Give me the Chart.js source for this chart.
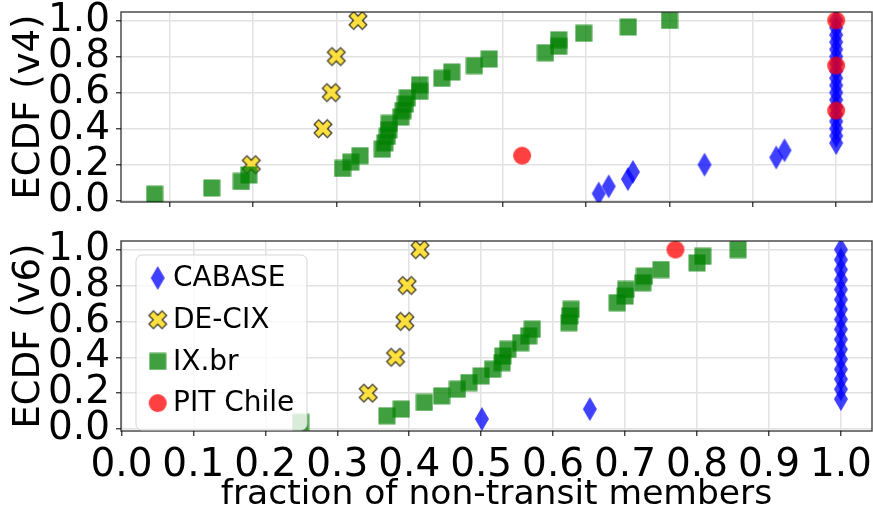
<!DOCTYPE html>
<html>
<head>
<meta charset="utf-8">
<script src="https://cdn.jsdelivr.net/npm/chart.js@4.4.1/dist/chart.umd.min.js"></script>
<style>
  html, body { margin: 0; padding: 0; background: #fff; overflow: hidden; }
  #wrap { position: relative; width: 873px; height: 514px; overflow: hidden; }
  canvas { position: absolute; left: 0; }
  #chartV4 { top: 0; }
  #chartV6 { top: 230px; }
</style>
</head>
<body>
<div id="wrap">
  <canvas id="chartV4" width="882" height="222"></canvas>
  <canvas id="chartV6" width="882" height="284"></canvas>
</div>
<script>
const seriesNames = ['CABASE', 'DE-CIX', 'IX.br', 'PIT Chile'];

// ECDF (v4) - top panel
const cabaseV4X = [0.715, 0.727, 0.750, 0.756, 0.842, 0.928, 0.938,
  1, 1, 1, 1, 1, 1, 1, 1, 1, 1, 1, 1, 1, 1, 1, 1, 1, 1];
const cabaseV4Y = [0.04, 0.08, 0.12, 0.16, 0.20, 0.24, 0.28,
  0.32, 0.36, 0.40, 0.44, 0.48, 0.52, 0.56, 0.60, 0.64, 0.68, 0.72, 0.76, 0.80, 0.84, 0.88, 0.92, 0.96, 1.00];
const decixV4X = [0.298, 0.384, 0.394, 0.400, 0.426];
const decixV4Y = [0.2, 0.4, 0.6, 0.8, 1.0];
const ixbrV4X = [0.182, 0.2505, 0.286, 0.295, 0.4075, 0.4174, 0.4286, 0.4552, 0.4583, 0.4611,
  0.4631, 0.4635, 0.4774, 0.4802, 0.4829, 0.4853, 0.5001, 0.5001, 0.5267, 0.5386,
  0.5657, 0.5835, 0.651, 0.667, 0.667, 0.697, 0.7505, 0.800];
const ixbrV4Y = [0.036, 0.071, 0.107, 0.143, 0.179, 0.214, 0.25, 0.286, 0.321, 0.357,
  0.393, 0.429, 0.464, 0.5, 0.536, 0.571, 0.607, 0.643, 0.679, 0.714,
  0.75, 0.786, 0.821, 0.857, 0.893, 0.929, 0.964, 1.0];
const pitV4X = [0.623, 1, 1, 1];
const pitV4Y = [0.25, 0.5, 0.75, 1.0];

// ECDF (v6) - bottom panel
const cabaseV6X = [0.501, 0.651, 1, 1, 1, 1, 1, 1, 1, 1, 1, 1, 1, 1, 1, 1, 1, 1];
const cabaseV6Y = [0.056, 0.111, 0.167, 0.222, 0.278, 0.333, 0.389, 0.444, 0.5,
  0.556, 0.611, 0.667, 0.722, 0.778, 0.833, 0.889, 0.944, 1.0];
const decixV6X = [0.343, 0.381, 0.394, 0.397, 0.415];
const decixV6Y = [0.2, 0.4, 0.6, 0.8, 1.0];
const ixbrV6X = [0.249, 0.369, 0.389, 0.421, 0.445, 0.467, 0.483, 0.500, 0.516, 0.529,
  0.530, 0.537, 0.555, 0.566, 0.571, 0.622, 0.623, 0.625, 0.689, 0.700,
  0.701, 0.7245, 0.727, 0.750, 0.800, 0.808, 0.857];
const ixbrV6Y = [0.037, 0.074, 0.111, 0.148, 0.185, 0.222, 0.259, 0.296, 0.333, 0.370,
  0.407, 0.444, 0.481, 0.519, 0.556, 0.593, 0.630, 0.667, 0.704, 0.741,
  0.778, 0.815, 0.852, 0.889, 0.926, 0.963, 1.0];
const pitV6X = [0.770];
const pitV6Y = [1.0];

const yTicks = [0.0, 0.2, 0.4, 0.6, 0.8, 1.0];
const xTicksV4 = [0.2, 0.3, 0.4, 0.5, 0.6, 0.7, 0.8, 0.9, 1.0];
const xTicksV6 = [0.0, 0.1, 0.2, 0.3, 0.4, 0.5, 0.6, 0.7, 0.8, 0.9, 1.0];

const FONT = 'DejaVu Sans';

// markers drawn once into small canvases (matplotlib-like shapes)
function makeMarker(w, h, draw) {
  const c = document.createElement('canvas');
  c.width = w; c.height = h;
  draw(c.getContext('2d'), w, h);
  return c;
}
const diamondImg = makeMarker(16, 26, (ctx, w, h) => {
  ctx.fillStyle = 'rgba(0,0,255,0.75)';
  ctx.beginPath();
  ctx.moveTo(w / 2, 1); ctx.lineTo(w - 1, h / 2); ctx.lineTo(w / 2, h - 1); ctx.lineTo(1, h / 2);
  ctx.closePath(); ctx.fill();
});
const crossImg = makeMarker(24, 24, (ctx, w, h) => {
  const s = 9.3, a = 3.2;
  ctx.translate(w / 2, h / 2);
  ctx.rotate(Math.PI / 4);
  ctx.beginPath();
  const pts = [[-a, -s], [a, -s], [a, -a], [s, -a], [s, a], [a, a], [a, s], [-a, s], [-a, a], [-s, a], [-s, -a], [-a, -a]];
  pts.forEach((p, i) => i ? ctx.lineTo(p[0], p[1]) : ctx.moveTo(p[0], p[1]));
  ctx.closePath();
  ctx.fillStyle = 'rgba(255,215,0,0.75)';
  ctx.fill();
  ctx.lineWidth = 1.3;
  ctx.strokeStyle = 'rgba(0,0,0,0.75)';
  ctx.stroke();
});
const squareImg = makeMarker(18, 18, (ctx, w, h) => {
  ctx.fillStyle = 'rgba(0,128,0,0.75)';
  ctx.fillRect(0.5, 0.5, 17, 17);
});
const circleImg = makeMarker(20, 20, (ctx, w, h) => {
  ctx.fillStyle = 'rgba(255,0,0,0.75)';
  ctx.beginPath(); ctx.arc(w / 2, h / 2, 9, 0, Math.PI * 2); ctx.fill();
});
const markerImgs = [diamondImg, crossImg, squareImg, circleImg];

function pts(xs, ys) { return xs.map((x, i) => ({ x: x, y: ys[i] })); }

function makeDatasets(groups) {
  return groups.map((g, i) => ({
    label: seriesNames[i],
    data: pts(g[0], g[1]),
    pointStyle: markerImgs[i],
    pointRadius: 9,
    pointHoverRadius: 9,
    order: groups.length - i
  }));
}

const framePlugin = {
  id: 'frame',
  afterDatasetsDraw(chart) {
    const a = chart.chartArea, ctx = chart.ctx;
    ctx.save();
    ctx.strokeStyle = 'rgba(0,0,0,0.7)';
    ctx.lineWidth = 1.5;
    ctx.strokeRect(a.left, a.top, a.right - a.left, a.bottom - a.top);
    ctx.restore();
  }
};

const legendPlugin = {
  id: 'boxLegend',
  afterDraw(chart) {
    const ctx = chart.ctx;
    ctx.save();
    ctx.beginPath();
    ctx.roundRect(136, 25, 171, 175, 6);
    ctx.fillStyle = 'rgba(255,255,255,0.8)';
    ctx.fill();
    ctx.strokeStyle = 'rgba(204,204,204,0.8)';
    ctx.lineWidth = 1;
    ctx.stroke();
    ctx.font = '28px "' + FONT + '"';
    ctx.fillStyle = '#000';
    ctx.textBaseline = 'middle';
    seriesNames.forEach((name, i) => {
      const cy = 48 + i * 41.7;
      const img = markerImgs[i];
      ctx.drawImage(img, 157.7 - img.width / 2, cy - img.height / 2);
      ctx.fillText(name, 173, cy + 1);
    });
    ctx.restore();
  }
};

function axisOpts(ticks, min, max, showLabels, title, titleSize, fitSize, horizontal) {
  return {
    type: 'linear',
    min: min,
    max: max,
    afterBuildTicks: s => { s.ticks = ticks.map(v => ({ value: v })); },
    afterFit: s => {
      if (horizontal) { s.height = fitSize; s.paddingLeft = 0; s.paddingRight = 0; }
      else { s.width = fitSize; s.paddingTop = 0; s.paddingBottom = 0; }
    },
    grid: { color: '#e2e2e2', lineWidth: 1.5, tickColor: '#333', tickLength: 5, tickWidth: 1.3 },
    border: { display: false },
    ticks: {
      display: showLabels,
      padding: 6,
      color: '#000',
      font: { family: FONT, size: 39 },
      maxRotation: 0,
      autoSkip: false,
      callback: v => v.toFixed(1)
    },
    title: title ? {
      display: true, text: title, color: '#000',
      font: { family: FONT, size: titleSize, lineHeight: 1.1 },
      padding: { top: 8.6, bottom: 0 }
    } : { display: false }
  };
}

function makeChart(id, datasets, xTicks, xMin, xMax, yMin, yMax, showX, yTitle, xTitle, xFit, padTop, plugins) {
  return new Chart(document.getElementById(id), {
    type: 'scatter',
    data: { datasets: datasets },
    options: {
      responsive: false,
      devicePixelRatio: 1,
      animation: false,
      layout: { padding: { top: padTop, right: 2, left: 0, bottom: 0 } },
      plugins: { legend: { display: false }, tooltip: { enabled: false } },
      scales: {
        x: axisOpts(xTicks, xMin, xMax, showX, xTitle, 34.5, xFit, true),
        y: axisOpts(yTicks, yMin, yMax, true, yTitle, 37, 121, false)
      }
    },
    plugins: plugins
  });
}

makeChart('chartV4',
  makeDatasets([[cabaseV4X, cabaseV4Y], [decixV4X, decixV4Y], [ixbrV4X, ixbrV4Y], [pitV4X, pitV4Y]]),
  xTicksV4, 0.1416, 1.0430, -0.007, 1.047, false, 'ECDF (v4)', null, 20, 12, [framePlugin]);

makeChart('chartV6',
  makeDatasets([[cabaseV6X, cabaseV6Y], [decixV6X, decixV6Y], [ixbrV6X, ixbrV6Y], [pitV6X, pitV6Y]]),
  xTicksV6, -0.0006, 1.0432, -0.011, 1.048, true, 'ECDF (v6)', 'fraction of non-transit members', 83, 11, [framePlugin, legendPlugin]);
</script>
</body>
</html>
